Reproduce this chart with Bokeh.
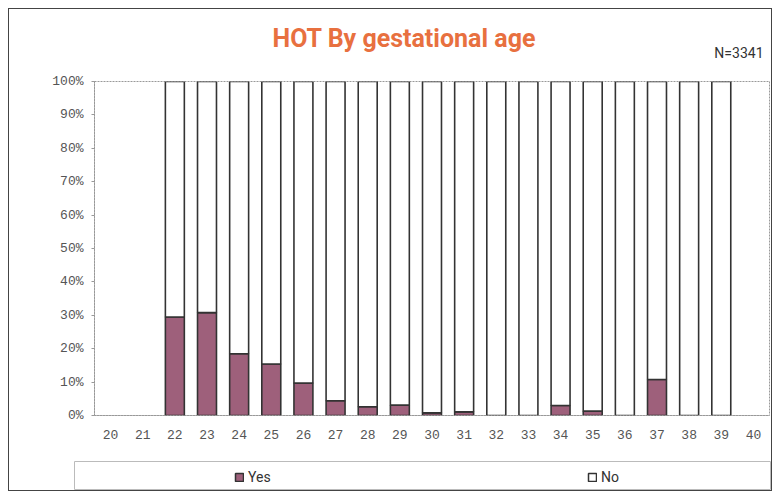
from bokeh.plotting import figure
from bokeh.models import (ColumnDataSource, Legend, LegendItem, Title, Column, Row,
                          FixedTicker, PrintfTickFormatter, Range1d)
from bokeh.embed import file_html
from bokeh.resources import INLINE

# ---- data ----
weeks = [str(w) for w in range(20, 41)]
yes_pct = [None, None, 29.5, 30.8, 18.5, 15.4, 9.7, 4.4, 2.6, 3.1, 0.8, 1.1,
           0.0, 0.0, 3.0, 1.3, 0.0, 10.8, 0.0, 0.0, None]
no_pct = [None if y is None else round(100 - y, 1) for y in yes_pct]
y_ticks = list(range(0, 101, 10))
series_labels = ["Yes", "No"]
title_text = "HOT By gestational age"
n_text = "N=3341"

idx = [i for i, y in enumerate(yes_pct) if y is not None]
src = ColumnDataSource(dict(
    week=[weeks[i] for i in idx],
    yes=[yes_pct[i] for i in idx],
    total=[yes_pct[i] + no_pct[i] for i in idx],
))

yes_color = "#9E607B"
bar_line = "#333333"
W = 762

# ---- main chart ----
p = figure(x_range=weeks, y_range=(0, 100), width=W, height=446, title=None,
           output_backend="svg", toolbar_location=None,
           min_border_left=85, min_border_right=2, min_border_top=72, min_border_bottom=40)

# first added = closest to the frame
p.add_layout(Title(text=n_text, align="right", offset=6, standoff=42,
                   text_font="Roboto", text_font_style="normal", text_font_size="14px",
                   text_color="#333333"), "above")
p.add_layout(Title(text=title_text, align="left", offset=178, standoff=-62,
                   text_font="Roboto", text_font_style="bold", text_font_size="25px",
                   text_color="#E8703F"), "above")

r_yes = p.vbar(x="week", bottom=0, top="yes", width=0.59, source=src,
               fill_color=yes_color, line_color=bar_line, line_width=1.6)
r_no = p.vbar(x="week", bottom="yes", top="total", width=0.59, source=src,
              fill_color="white", line_color=bar_line, line_width=1.6)

p.xgrid.visible = False
p.ygrid.visible = False
p.outline_line_color = "#999999"
p.outline_line_dash = "2 1"

p.yaxis.ticker = FixedTicker(ticks=y_ticks)
p.yaxis.formatter = PrintfTickFormatter(format="%d%%")
for ax in (p.xaxis[0], p.yaxis[0]):
    ax.axis_line_color = "#999999"
    ax.axis_line_dash = "2 1"
    ax.major_label_text_font = "Liberation Mono"
    ax.major_label_text_font_size = "13px"
    ax.major_label_text_color = "#555555"
    ax.minor_tick_line_color = None
p.yaxis.major_tick_out = 3
p.yaxis.major_tick_in = 0
p.yaxis.major_tick_line_color = "#999999"
p.yaxis.major_label_standoff = 8
p.xaxis.major_tick_line_color = None
p.xaxis.major_label_standoff = 8

# ---- legend strip (its frame is the legend box) ----
leg = figure(width=W, height=35, output_backend="svg", toolbar_location=None,
             x_range=Range1d(0, 1), y_range=Range1d(0, 1),
             x_axis_location=None, y_axis_location=None,
             min_border_left=65, min_border_right=1, min_border_top=6, min_border_bottom=1)
leg.xgrid.visible = False
leg.ygrid.visible = False
leg.outline_line_color = "#bbbbbb"
# swatch-only renderers (their single row has no height, so nothing is drawn)
sw_src = ColumnDataSource(dict(x=[0.5], top=[float("nan")]))
sw_yes = leg.vbar(x="x", top="top", width=0.5, source=sw_src,
                  fill_color=yes_color, line_color=bar_line, line_width=1.5)
sw_no = leg.vbar(x="x", top="top", width=0.5, source=sw_src,
                 fill_color="white", line_color=bar_line, line_width=1.5)
legend = Legend(items=[LegendItem(label=series_labels[0], renderers=[sw_yes]),
                       LegendItem(label=series_labels[1], renderers=[sw_no])],
                orientation="horizontal", location=(160, 4),
                padding=0, margin=0, spacing=309, label_width=30,
                glyph_width=10, glyph_height=10, label_standoff=4,
                label_text_font="Roboto", label_text_font_size="14px",
                label_text_color="#333333",
                border_line_alpha=0, background_fill_alpha=0)
leg.add_layout(legend, "center")

layout = Column(children=[p, Row(children=[leg], spacing=0)], spacing=0, margin=(8, 8, 8, 8),
                styles={"border": "1px solid #444444"})

open("out.html", "w").write(file_html(layout, INLINE))
